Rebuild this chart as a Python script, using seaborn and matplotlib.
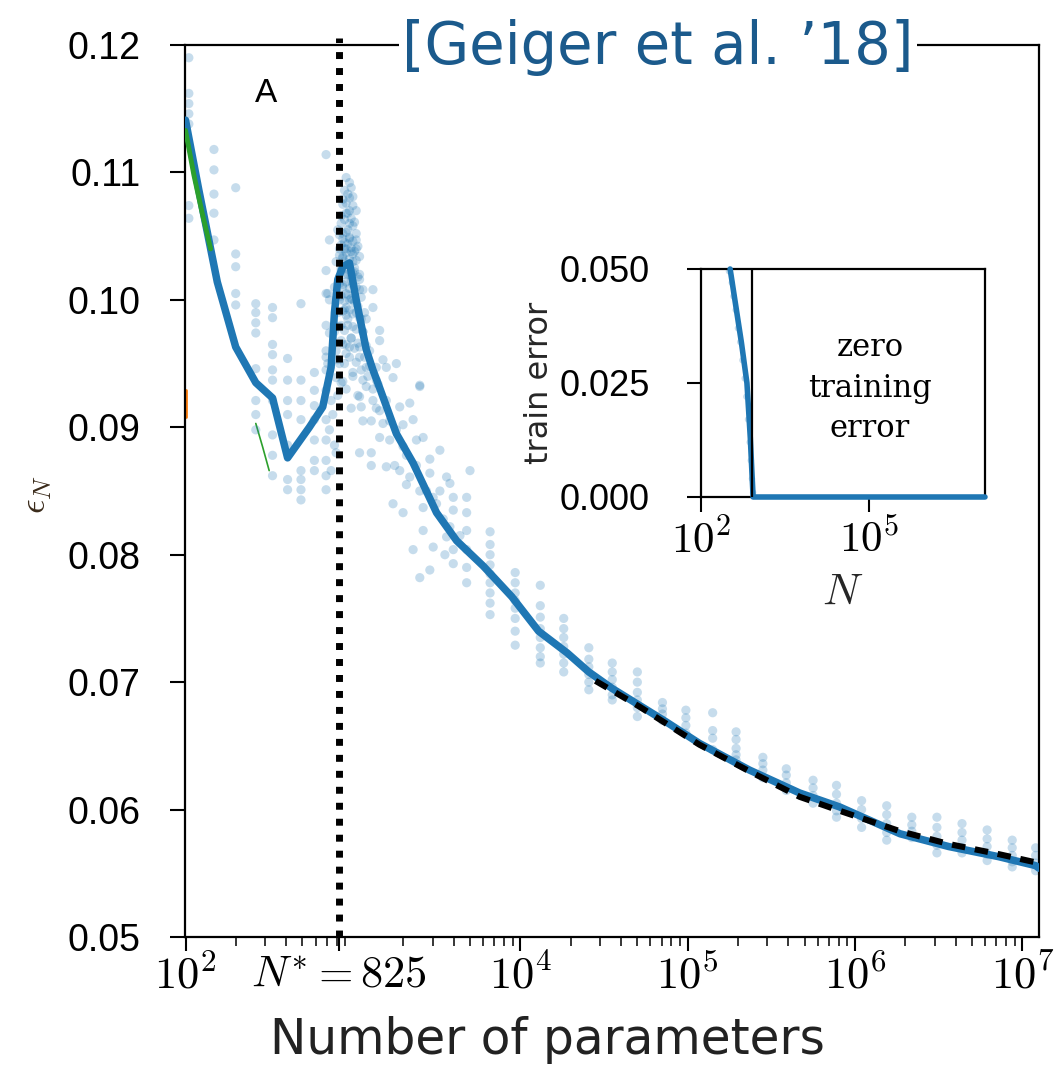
import numpy as np
import pandas as pd
import matplotlib
matplotlib.use("Agg")
import matplotlib.pyplot as plt
import seaborn as sns
from matplotlib.ticker import FixedLocator, FixedFormatter, LogLocator, NullFormatter, NullLocator

# ---------------- data (log10 N, test error) ----------------
mean_logN = [2.00, 2.08, 2.19, 2.30, 2.42, 2.52, 2.61, 2.74, 2.82, 2.87, 2.89, 2.91, 2.94, 2.98,
             3.02, 3.08, 3.12, 3.16, 3.26, 3.36, 3.50, 3.62, 3.78, 3.95, 4.11, 4.28, 4.41, 4.55,
             4.71, 4.87, 5.07, 5.37, 5.67, 5.91, 6.27, 6.56, 6.86, 7.08, 7.10]
mean_eps = [0.1141, 0.1086, 0.1014, 0.0963, 0.0935, 0.0923, 0.0876, 0.0900, 0.0916, 0.0947, 0.0990,
            0.1016, 0.1026, 0.1029, 0.1000, 0.0961, 0.0945, 0.0931, 0.0895, 0.0872, 0.0833, 0.0811,
            0.0791, 0.0767, 0.0740, 0.0723, 0.0708, 0.0695, 0.0682, 0.0669, 0.0652, 0.0631, 0.0613,
            0.0602, 0.0581, 0.0571, 0.0563, 0.0556, 0.0554]

fit_logN = [4.45, 4.71, 5.07, 5.37, 5.67, 5.91, 6.27, 6.56, 6.86, 7.10]
fit_eps = [0.0701, 0.0681, 0.0651, 0.0630, 0.0610, 0.0599, 0.0583, 0.0573, 0.0565, 0.0558]

green_logN = [2.00, 2.05, 2.10, 2.15]
green_eps = [0.1133, 0.1098, 0.1068, 0.1040]
green2_logN = [2.42, 2.46, 2.50]
green2_eps = [0.0903, 0.0885, 0.0866]
orange_logN = [2.005, 2.005]
orange_eps = [0.0929, 0.0908]

# repeated runs at fixed sizes (columns)
col_logN = [2.02, 2.17, 2.30, 2.42, 2.52, 2.61, 2.69, 2.77, 2.84,
            3.82, 3.97, 4.12, 4.26, 4.41, 4.55, 4.70, 4.85, 4.99, 5.15, 5.29, 5.45, 5.59,
            5.75, 5.89, 6.04, 6.19, 6.34, 6.49, 6.64, 6.79, 6.94, 7.08]
col_eps = [
    [0.1190, 0.1162, 0.1154, 0.1146, 0.1138, 0.1074, 0.1064],
    [0.1118, 0.1102, 0.1083, 0.1068, 0.1047],
    [0.1088, 0.1036, 0.1026, 0.1005, 0.0996],
    [0.0997, 0.0990, 0.0982, 0.0974, 0.0946, 0.0921, 0.0910, 0.0898],
    [0.0994, 0.0986, 0.0965, 0.0957, 0.0945, 0.0937, 0.0921, 0.0894, 0.0878, 0.0862],
    [0.0954, 0.0937, 0.0921, 0.0910, 0.0886, 0.0859, 0.0851],
    [0.0997, 0.0937, 0.0921, 0.0906, 0.0866, 0.0859, 0.0851, 0.0843],
    [0.0943, 0.0929, 0.0917, 0.0906, 0.0890, 0.0874, 0.0866],
    [0.1114, 0.1023, 0.1005, 0.0980, 0.0960, 0.0945, 0.0929, 0.0906, 0.0890, 0.0874, 0.0862, 0.0851],
    [0.0818, 0.0808, 0.0800, 0.0792, 0.0785, 0.0778, 0.0770, 0.0762, 0.0753],
    [0.0786, 0.0778, 0.0770, 0.0764, 0.0758, 0.0750, 0.0740, 0.0729],
    [0.0776, 0.0760, 0.0751, 0.0742, 0.0735, 0.0727, 0.0720, 0.0715],
    [0.0750, 0.0742, 0.0735, 0.0728, 0.0722, 0.0715, 0.0708],
    [0.0727, 0.0718, 0.0712, 0.0706, 0.0700, 0.0694],
    [0.0715, 0.0708, 0.0702, 0.0696, 0.0690, 0.0686],
    [0.0708, 0.0700, 0.0692, 0.0686, 0.0680, 0.0673],
    [0.0684, 0.0679, 0.0675, 0.0670],
    [0.0678, 0.0672, 0.0666, 0.0660],
    [0.0676, 0.0662, 0.0656, 0.0647],
    [0.0661, 0.0655, 0.0648, 0.0643, 0.0639],
    [0.0641, 0.0636, 0.0631, 0.0625],
    [0.0632, 0.0627, 0.0621, 0.0615],
    [0.0623, 0.0617, 0.0611, 0.0605],
    [0.0619, 0.0612, 0.0605, 0.0599, 0.0594],
    [0.0607, 0.0600, 0.0593, 0.0586],
    [0.0603, 0.0596, 0.0589, 0.0582, 0.0576],
    [0.0594, 0.0588, 0.0583, 0.0578],
    [0.0594, 0.0586, 0.0579, 0.0572, 0.0566],
    [0.0589, 0.0582, 0.0576, 0.0570, 0.0566],
    [0.0584, 0.0577, 0.0571, 0.0565, 0.0560],
    [0.0576, 0.0570, 0.0564, 0.0559, 0.0555],
    [0.0570, 0.0564, 0.0558, 0.0552],
]

# individual runs around the interpolation threshold
cloud_logN = [2.85, 2.85, 2.86, 2.86, 2.86, 2.84, 2.87, 2.88, 2.86, 2.89, 2.87, 2.90,
              2.96, 2.98, 3.00, 3.02, 2.98, 3.02, 2.94, 3.04, 3.00, 3.04, 3.06, 3.12, 2.96, 3.02,
              3.12, 3.16, 3.16, 2.98, 3.04, 3.00, 3.14, 3.20, 3.24, 3.40,
              3.04, 3.11, 3.11, 3.00, 3.04, 3.08, 3.08, 3.04, 3.12, 3.05, 3.14, 2.98,
              2.93, 2.94, 2.95, 2.96, 2.97, 2.98, 2.99, 3.00, 2.95, 2.93, 2.97, 2.99, 3.01, 3.02,
              2.96, 2.94, 2.92, 2.92, 2.91, 2.93, 2.95, 2.97, 3.00, 3.03, 3.05, 3.04, 2.98, 2.96,
              2.94, 3.00, 3.02, 2.91, 2.90, 2.89, 2.89, 2.90, 2.92, 2.94, 2.96, 2.99, 3.01, 3.06,
              3.08, 3.07, 3.10, 3.09, 3.12, 3.05, 2.93, 2.91, 2.96, 3.03, 2.99, 3.14, 3.11, 3.06,
              3.18, 3.26, 3.40, 3.20, 3.28, 3.34, 3.36, 3.42, 3.52, 3.22, 3.20, 3.28, 3.34, 3.46,
              3.56, 3.58, 3.24, 3.30, 3.42, 3.48, 3.60, 3.68, 3.60, 3.68, 3.42, 3.48, 3.36, 3.56,
              3.68, 3.60, 3.68, 3.60, 3.68, 3.46, 3.40, 3.68, 3.16, 3.18, 3.16, 3.70,
              3.22, 3.26, 3.30, 3.32, 3.38, 3.44, 3.50, 3.54, 3.58, 3.64, 3.30, 3.38, 3.46, 3.52,
              3.25, 3.32, 3.40, 3.55]
cloud_eps = [0.1005, 0.0950, 0.1047, 0.1000, 0.0974, 0.0955, 0.0921, 0.0910, 0.0898, 0.0886, 0.0866, 0.0880,
             0.1096, 0.1092, 0.1081, 0.1070, 0.1060, 0.1047, 0.1034, 0.1034, 0.1021, 0.1016, 0.1008, 0.1008, 0.0994, 0.0990,
             0.0994, 0.0976, 0.0968, 0.0963, 0.0955, 0.0943, 0.0947, 0.0947, 0.0939, 0.0932,
             0.0880, 0.0880, 0.0870, 0.0979, 0.0963, 0.0947, 0.0932, 0.0924, 0.0921, 0.0916, 0.0937, 0.1000,
             0.1060, 0.1052, 0.1045, 0.1040, 0.1055, 0.1048, 0.1038, 0.1030, 0.1030, 0.1025, 0.1020, 0.1015, 0.1025, 0.1010,
             0.1005, 0.1012, 0.1040, 0.1000, 0.0990, 0.0980, 0.0992, 0.0985, 0.1000, 0.0995, 0.0985, 0.1020, 0.1070, 0.1068,
             0.1075, 0.1058, 0.1040, 0.1055, 0.1030, 0.1010, 0.0975, 0.0960, 0.0950, 0.0965, 0.0958, 0.0970, 0.0962, 0.0975,
             0.0985, 0.0955, 0.0960, 0.0940, 0.0930, 0.0945, 0.0935, 0.0925, 0.0930, 0.0925, 0.0915, 0.0915, 0.0905, 0.0905,
             0.0953, 0.0950, 0.0933, 0.0921, 0.0916, 0.0919, 0.0906, 0.0892, 0.0882, 0.0890, 0.0869, 0.0866, 0.0861, 0.0864,
             0.0861, 0.0856, 0.0840, 0.0833, 0.0837, 0.0845, 0.0845, 0.0845, 0.0835, 0.0833, 0.0819, 0.0806, 0.0804, 0.0814,
             0.0819, 0.0804, 0.0804, 0.0793, 0.0790, 0.0788, 0.0782, 0.0778, 0.0913, 0.0903, 0.0892, 0.0866,
             0.0905, 0.0898, 0.0885, 0.0878, 0.0870, 0.0850, 0.0840, 0.0828, 0.0822, 0.0815, 0.0902, 0.0890, 0.0875, 0.0850,
             0.0870, 0.0855, 0.0850, 0.0800]

# densest part of the cloud just right of N*
blob_logN = [2.95, 2.97, 2.99, 2.94, 2.96, 2.98, 3.00, 2.93, 2.95, 2.97, 2.99, 3.01,
             2.92, 2.94, 2.96, 2.98, 3.00, 3.02, 2.93, 2.95, 2.97, 2.99, 3.01, 3.03,
             2.92, 2.94, 2.96, 2.98, 3.00, 3.02, 2.93, 2.95, 2.97, 2.99, 3.01, 3.03,
             2.92, 2.94, 2.96, 2.98, 3.00, 3.04, 2.93, 2.95, 2.97, 2.99, 3.01, 3.05,
             2.94, 2.96, 2.98, 3.00, 3.04, 3.07, 2.92, 2.95, 2.97, 3.02, 3.06,
             2.93, 2.96, 2.99, 3.03, 3.08, 2.91, 2.95, 2.98, 3.02, 3.10, 2.90, 2.94, 3.00, 3.06, 3.15]
blob_eps = [0.1086, 0.1083, 0.1088, 0.1079, 0.1076, 0.1080, 0.1074, 0.1066, 0.1063, 0.1068, 0.1064, 0.1061,
            0.1051, 0.1048, 0.1053, 0.1049, 0.1046, 0.1052, 0.1043, 0.1040, 0.1044, 0.1041, 0.1038, 0.1042,
            0.1035, 0.1033, 0.1037, 0.1032, 0.1036, 0.1031, 0.1023, 0.1020, 0.1024, 0.1019, 0.1022, 0.1018,
            0.1013, 0.1010, 0.1014, 0.1009, 0.1012, 0.1008, 0.1003, 0.0999, 0.1004, 0.1001, 0.0998, 0.1002,
            0.0991, 0.0988, 0.0992, 0.0989, 0.0986, 0.0990, 0.0979, 0.0976, 0.0980, 0.0977, 0.0975,
            0.0968, 0.0965, 0.0970, 0.0966, 0.0964, 0.0953, 0.0950, 0.0955, 0.0951, 0.0948, 0.0939, 0.0936, 0.0940, 0.0937, 0.0934]

# inset: training error
inset_logN = [2.52, 2.62, 2.72, 2.82, 2.88, 2.93, 7.07]
inset_err = [0.050, 0.042, 0.034, 0.025, 0.013, 0.0, 0.0]
inset_pts_logN = [2.50, 2.55, 2.58, 2.62, 2.66, 2.70, 2.74, 2.78, 2.81, 2.84, 2.87, 2.89, 2.91, 2.93]
inset_pts_err = [0.0495, 0.047, 0.044, 0.041, 0.037, 0.034, 0.030, 0.026, 0.022, 0.017, 0.012, 0.008, 0.004, 0.001]

N_STAR = 825
x_major = [100, 825, 1e4, 1e5, 1e6, 1e7]
x_major_labels = [r'$10^2$', r'$N^{*} = 825$', r'$10^4$', r'$10^5$', r'$10^6$', r'$10^7$']
y_major = [0.05, 0.06, 0.07, 0.08, 0.09, 0.10, 0.11, 0.12]
y_major_labels = ['0.05', '0.06', '0.07', '0.08', '0.09', '0.10', '0.11', '0.12']

# ---------------- build frames ----------------
col_df = pd.DataFrame([(10 ** lx, e) for lx, es in zip(col_logN, col_eps) for e in es], columns=['N', 'eps'])
cloud_df = pd.DataFrame({'N': [10 ** v for v in cloud_logN + blob_logN], 'eps': cloud_eps + blob_eps})
pts_df = pd.concat([col_df, cloud_df], ignore_index=True)
mean_df = pd.DataFrame({'N': [10 ** v for v in mean_logN], 'eps': mean_eps})
fit_df = pd.DataFrame({'N': [10 ** v for v in fit_logN], 'eps': fit_eps})

sns.set_theme(style="ticks")
plt.rcParams['font.family'] = ['Liberation Sans', 'DejaVu Sans']
plt.rcParams['mathtext.fontset'] = 'cm'
plt.rcParams['axes.edgecolor'] = 'black'

BLUE = '#1f77b4'

fig = plt.figure(figsize=(10.54, 10.89), dpi=100)
ax = fig.add_axes([185 / 1054, 1 - 937 / 1089, (1039 - 185) / 1054, (937 - 45) / 1089])
ax.set_xscale('log')

sns.scatterplot(data=pts_df, x='N', y='eps', ax=ax, color=BLUE, alpha=0.25, s=44,
                edgecolor='none', linewidth=0, zorder=2)
sns.lineplot(x=[10 ** v for v in green_logN], y=green_eps, ax=ax, color='#2ca02c', lw=3.5,
             estimator=None, sort=False, zorder=4)
sns.lineplot(x=[10 ** v for v in green2_logN], y=green2_eps, ax=ax, color='#2ca02c', lw=1.2,
             estimator=None, sort=False, zorder=1)
sns.lineplot(x=[10 ** v for v in orange_logN], y=orange_eps, ax=ax, color='#ff7f0e', lw=2,
             estimator=None, sort=False, zorder=1)
sns.lineplot(data=mean_df, x='N', y='eps', ax=ax, color=BLUE, lw=5.4, estimator=None,
             sort=False, zorder=3)
sns.lineplot(data=fit_df, x='N', y='eps', ax=ax, color='black', lw=4.4, estimator=None,
             sort=False, zorder=3.5, linestyle=(0, (2.2, 1.6)))
ax.axvline(N_STAR, ymin=0, ymax=1.008, color='black', lw=5, linestyle=(0, (1, 1.3)),
           zorder=6, clip_on=False)

ax.set_xlim(10 ** 1.997, 10 ** 7.10)
ax.set_ylim(0.05, 0.12)
ax.xaxis.set_major_locator(FixedLocator(x_major))
ax.xaxis.set_major_formatter(FixedFormatter(x_major_labels))
ax.xaxis.set_minor_locator(LogLocator(base=10, subs=np.arange(2, 10), numticks=50))
ax.xaxis.set_minor_formatter(NullFormatter())
ax.yaxis.set_major_locator(FixedLocator(y_major))
ax.yaxis.set_major_formatter(FixedFormatter(y_major_labels))
ax.set_xlabel('')
ax.set_ylabel('')
ax.tick_params(axis='y', which='major', direction='out', length=11, width=1.5, labelsize=27,
               pad=21, colors='black')
ax.tick_params(axis='x', which='major', direction='out', length=10, width=1.5, labelsize=32,
               pad=3, colors='black')
ax.tick_params(axis='x', which='minor', direction='out', length=6.5, width=1.3)
for s in ax.spines.values():
    s.set_linewidth(1.6)
    s.set_color('black')

ax.text(266 / 1054, 1 - 93 / 1089, 'A', transform=fig.transFigure, fontsize=24,
        ha='center', va='center', color='black')
fig.text(0.035, 1 - 495 / 1089, r'$\epsilon_N$', rotation=90, fontsize=26,
         ha='center', va='center', color='#3a2a1a')
fig.text(658 / 1054, 1 - 47 / 1089, '[Geiger et al. \u201918]', fontsize=41.5,
         family=['DejaVu Sans'], color='#1b5a8c', ha='center', va='center', zorder=10,
         bbox=dict(facecolor='white', edgecolor='none', pad=2))
fig.text(547 / 1054, 1 - 1040 / 1089, 'Number of parameters', fontsize=35,
         family=['DejaVu Sans'], color='#222222', ha='center', va='center')

# ---------------- inset ----------------
axi = fig.add_axes([701 / 1054, 1 - 497 / 1089, (985 - 701) / 1054, (497 - 269) / 1089])
axi.set_xscale('log')
sns.scatterplot(x=[10 ** v for v in inset_pts_logN], y=inset_pts_err, ax=axi, color=BLUE,
                alpha=0.25, s=22, edgecolor='none', linewidth=0, zorder=2)
sns.lineplot(x=[10 ** v for v in inset_logN], y=inset_err, ax=axi, color=BLUE, lw=4.0,
             estimator=None, sort=False, zorder=3, clip_on=False)
axi.axvline(N_STAR, color='black', lw=1.6, zorder=4)
axi.set_xlim(100, 10 ** 7.07)
axi.set_ylim(0, 0.05)
axi.xaxis.set_major_locator(FixedLocator([1e2, 1e5]))
axi.xaxis.set_major_formatter(FixedFormatter([r'$10^2$', r'$10^5$']))
axi.xaxis.set_minor_locator(NullLocator())
axi.yaxis.set_major_locator(FixedLocator([0.0, 0.025, 0.05]))
axi.yaxis.set_major_formatter(FixedFormatter(['0.000', '0.025', '0.050']))
axi.tick_params(axis='y', direction='out', length=10, width=1.5, labelsize=26, pad=27, colors='black')
axi.tick_params(axis='x', direction='out', length=11, width=1.5, labelsize=31, pad=5, colors='black')
axi.set_xlabel(r'$N$', fontsize=32, labelpad=8)
axi.set_ylabel('train error', fontsize=23, family=['DejaVu Sans'], labelpad=3)
for s in axi.spines.values():
    s.set_linewidth(1.6)
    s.set_color('black')
axi.text(0.595, 0.478, 'zero\ntraining\nerror', transform=axi.transAxes, fontsize=22,
         family=['DejaVu Serif'], ha='center', va='center', linespacing=1.38, color='black')

fig.savefig('out.png', dpi=100)
